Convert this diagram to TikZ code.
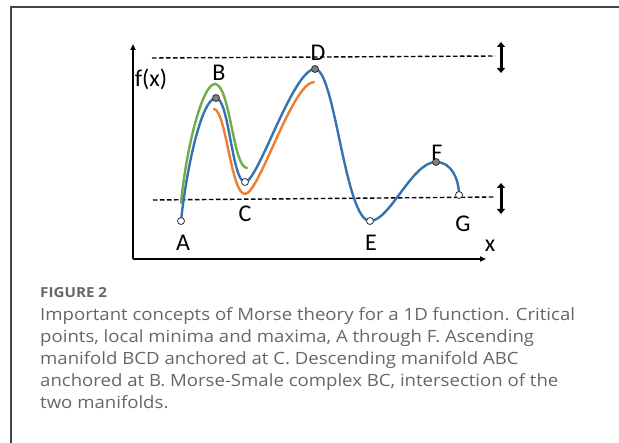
\documentclass[tikz,border=0pt]{standalone}
\usepackage{fontspec}
\setmainfont{Open Sans}[FakeStretch=1.1]
\newfontfamily\labfont{Carlito}
\usetikzlibrary{arrows.meta}
\definecolor{cblue}{HTML}{3572B0}
\definecolor{corange}{HTML}{ED7D31}
\definecolor{cgreen}{HTML}{70AD47}
\definecolor{capgray}{HTML}{666666}
\definecolor{framegray}{HTML}{444444}
\tikzset{
  curve/.style={line width=2.4pt, line cap=round},
  axis/.style={line width=1.8pt, -{Triangle[length=6pt,width=5pt]}},
  dashline/.style={line width=1.4pt, dash pattern=on 4.5pt off 2.5pt},
  dbl/.style={line width=3pt, {Triangle[length=5pt,width=8pt]}-{Triangle[length=5pt,width=8pt]}},
  maxpt/.style={circle, draw=black!80, fill=gray, line width=0.8pt, inner sep=0pt, minimum size=7pt},
  minpt/.style={circle, draw=black!80, fill=white, line width=0.8pt, inner sep=0pt, minimum size=7pt},
  lab/.style={font=\labfont\fontsize{24}{24}\selectfont, inner sep=0pt},
  capline/.style={anchor=base west, inner sep=0pt, text=capgray, font=\fontsize{16.9}{18}\selectfont},
}
\begin{document}
\begin{tikzpicture}[x=1pt,y=-1pt]
\useasboundingbox (0,0) rectangle (619,443);
% frame
\draw[framegray, line width=1.5pt] (11,443) -- (11,7) -- (619,7);
% axes
\coordinate (O) at (133,259);
\coordinate (Ytop) at (133,44);
\coordinate (Xend) at (486,259);
\draw[axis] (O) -- (Ytop);
\draw[axis] (O) -- (Xend);
% dashed lines
\coordinate (u1) at (152,58);
\coordinate (u2) at (495,56);
\coordinate (l1) at (153,200);
\coordinate (l2) at (495,197);
\draw[dashline] (u1) -- (u2);
\draw[dashline] (l1) -- (l2);
% double arrows
\coordinate (da1) at (501,42);
\coordinate (da2) at (501,73);
\coordinate (db1) at (501,183);
\coordinate (db2) at (501,214);
\draw[dbl] (da1) -- (da2);
\draw[dbl] (db1) -- (db2);
% green curve
\draw[curve, cgreen] (181,203) .. controls (186,150) and (202,84) .. (215,84)
  .. controls (230,84) and (233,168) .. (247,168);
% orange curve
\draw[curve, corange] (214,109) .. controls (226,110) and (231,194) .. (245,194)
  .. controls (259,194) and (292,83) .. (314,82);
% blue curve
\coordinate (pA) at (181,221);
\coordinate (pB) at (216,98);
\coordinate (pC) at (245,182);
\coordinate (pD) at (315,69);
\coordinate (pE) at (370,221);
\coordinate (pF) at (436,162);
\coordinate (pG) at (459,195);
\draw[curve, cblue] (pA) .. controls (187,165) and (202,98) .. (pB)
  .. controls (229,98) and (232,182) .. (pC)
  .. controls (258,182) and (293,69) .. (pD)
  .. controls (335,69) and (345,221) .. (pE)
  .. controls (390,221) and (412,162) .. (pF)
  .. controls (452,162) and (459,180) .. (pG);
% points
\node[minpt] (A) at (pA) {};
\node[maxpt] (B) at (pB) {};
\node[minpt] (C) at (pC) {};
\node[maxpt] (D) at (pD) {};
\node[minpt] (E) at (pE) {};
\node[maxpt] (F) at (pF) {};
\node[minpt] (G) at (pG) {};
% labels
\node[lab] (lfx) at (151,79) {f(x)};
\node[lab] (lA) at (183,243) {A};
\node[lab] (lB) at (219,73) {B};
\node[lab] (lC) at (245,214) {C};
\node[lab] (lD) at (318,53) {D};
\node[lab] (lE) at (371,243) {E};
\node[lab] (lF) at (437,153) {F};
\node[lab] (lG) at (463,224) {G};
\node[lab] (lx) at (490,246) {x};
% caption
\node[anchor=base west, inner sep=0pt, text=capgray, font=\fontsize{13.8}{14}\selectfont\bfseries] (fig) at (40,298) {FIGURE 2};
\node[capline] (c1) at (40,321) {Important concepts of Morse theory for a 1D function. Critical};
\node[capline] (c2) at (40,343) {points, local minima and maxima, A through F. Ascending};
\node[capline] (c3) at (40,365) {manifold BCD anchored at C. Descending manifold ABC};
\node[capline] (c4) at (40,387) {anchored at B. Morse-Smale complex BC, intersection of the};
\node[capline] (c5) at (40,409) {two manifolds.};
\end{tikzpicture}
\end{document}
